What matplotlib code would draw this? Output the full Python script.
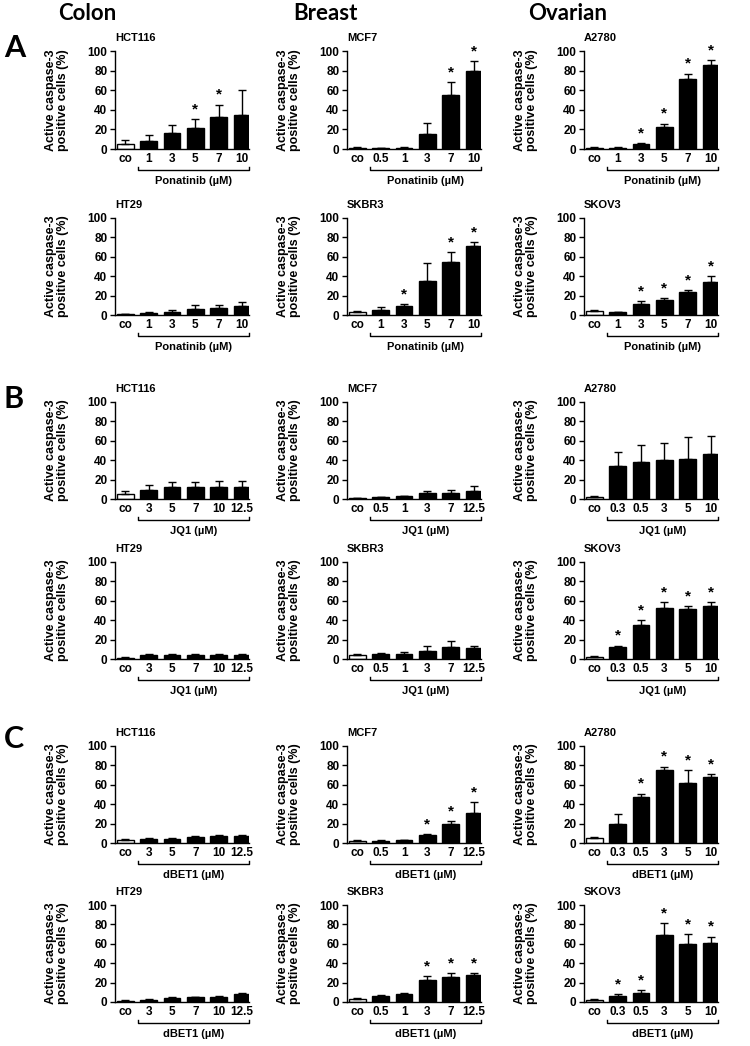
import matplotlib
matplotlib.use("Agg")
import matplotlib.pyplot as plt
import numpy as np

plt.rcParams['font.family'] = ['Liberation Sans', 'DejaVu Sans']
plt.rcParams['font.weight'] = 'bold'

# ---------------- data ----------------
doses_pona_colon = ['co', '1', '3', '5', '7', '10']
doses_pona_mcf7 = ['co', '0.5', '1', '3', '7', '10']
doses_pona_skbr3 = ['co', '1', '3', '5', '7', '10']
doses_pona_ovarian = ['co', '1', '3', '5', '7', '10']
doses_colon = ['co', '3', '5', '7', '10', '12.5']
doses_breast = ['co', '0.5', '1', '3', '7', '12.5']
doses_ovarian = ['co', '0.3', '0.5', '3', '5', '10']

# Panel A: Ponatinib
A_HCT116_mean = [5, 8.5, 16.4, 21.5, 32.4, 34.5]
A_HCT116_sem = [3.9, 6.2, 8.6, 9.2, 13, 26.2]
A_HCT116_sig = [0, 0, 0, 1, 1, 0]
A_MCF7_mean = [1.5, 0.8, 1.5, 15.5, 55, 79.7]
A_MCF7_sem = [1, 0.4, 0.7, 11.5, 13, 10.3]
A_MCF7_sig = [0, 0, 0, 0, 1, 1]
A_A2780_mean = [1.5, 1.5, 5.2, 22.4, 71, 86]
A_A2780_sem = [1, 0.5, 0.8, 3.5, 6, 4.7]
A_A2780_sig = [0, 0, 1, 1, 1, 1]
A_HT29_mean = [0.8, 2, 3, 6.2, 7.6, 9.7]
A_HT29_sem = [0.4, 1.5, 2, 4.1, 2.7, 3.7]
A_HT29_sig = [0, 0, 0, 0, 0, 0]
A_SKBR3_mean = [3.4, 5.5, 9, 35.5, 54.5, 71.4]
A_SKBR3_sem = [1.1, 2.8, 2.4, 17.9, 10.3, 3.6]
A_SKBR3_sig = [0, 0, 1, 0, 1, 1]
A_SKOV3_mean = [3.8, 2.8, 11.4, 15.9, 24.1, 34.5]
A_SKOV3_sem = [1.7, 0.6, 2.7, 1.7, 1.4, 5.2]
A_SKOV3_sig = [0, 0, 1, 1, 1, 1]

# Panel B: JQ1
B_HCT116_mean = [5.2, 9.6, 12.4, 12.4, 12.4, 12.4]
B_HCT116_sem = [3.4, 4.5, 4.8, 4.8, 6.5, 6.5]
B_HCT116_sig = [0, 0, 0, 0, 0, 0]
B_MCF7_mean = [1, 2, 2.7, 5.8, 6.2, 8.2]
B_MCF7_sem = [0.5, 0.5, 0.7, 2.4, 2.7, 4.8]
B_MCF7_sig = [0, 0, 0, 0, 0, 0]
B_A2780_mean = [2, 34, 38, 40.2, 41.2, 46.4]
B_A2780_sem = [0.7, 14, 18, 17.5, 22.4, 18.9]
B_A2780_sig = [0, 0, 0, 0, 0, 0]
B_HT29_mean = [1.4, 4, 4, 4, 3.8, 4.1]
B_HT29_sem = [0.4, 1.2, 1, 1, 1.2, 1.1]
B_HT29_sig = [0, 0, 0, 0, 0, 0]
B_SKBR3_mean = [3.8, 5.2, 5.5, 8, 12, 11.8]
B_SKBR3_sem = [1, 0.8, 1.5, 5, 6.9, 1.2]
B_SKBR3_sig = [0, 0, 0, 0, 0, 0]
B_SKOV3_mean = [2.5, 12.8, 34.7, 52.6, 51.5, 55]
B_SKOV3_sem = [1, 1, 5.5, 6.5, 2.8, 3.8]
B_SKOV3_sig = [0, 1, 1, 1, 1, 1]

# Panel C: dBET1
C_HCT116_mean = [3, 4, 4.3, 6, 7, 7]
C_HCT116_sem = [1, 1, 0.7, 1, 1.2, 1.2]
C_HCT116_sig = [0, 0, 0, 0, 0, 0]
C_MCF7_mean = [2, 2, 2.7, 8.5, 19.2, 30.8]
C_MCF7_sem = [1, 0.8, 0.7, 1.1, 3.7, 11.7]
C_MCF7_sig = [0, 0, 0, 1, 1, 1]
C_A2780_mean = [5, 19.2, 47.3, 75.3, 62.3, 67.8]
C_A2780_sem = [1, 10.9, 3.7, 3.5, 13, 3.1]
C_A2780_sig = [0, 0, 1, 1, 1, 1]
C_HT29_mean = [1.5, 2.5, 4, 4.8, 5, 8.5]
C_HT29_sem = [0.7, 0.8, 1, 0.7, 1.5, 0.8]
C_HT29_sig = [0, 0, 0, 0, 0, 0]
C_SKBR3_mean = [3, 6, 8.5, 22.7, 25.4, 27.5]
C_SKBR3_sem = [0.8, 1.3, 0.8, 4.4, 4.5, 2.4]
C_SKBR3_sig = [0, 0, 0, 1, 1, 1]
C_SKOV3_mean = [2.5, 6.2, 9.3, 69, 59.5, 61.2]
C_SKOV3_sem = [0.7, 2, 3.1, 12.1, 10.3, 6.2]
C_SKOV3_sig = [0, 1, 1, 1, 1, 1]

column_titles = ['Colon', 'Breast', 'Ovarian']
panel_letters = ['A', 'B', 'C']
drug_labels = ['Ponatinib (µM)', 'Ponatinib (µM)', 'JQ1 (µM)', 'JQ1 (µM)', 'dBET1 (µM)', 'dBET1 (µM)']
y_ticks = [0, 20, 40, 60, 80, 100]
ylabel_text = 'Active caspase-3\npositive cells (%)'

panels = [
    [('HCT116', doses_pona_colon, A_HCT116_mean, A_HCT116_sem, A_HCT116_sig),
     ('MCF7', doses_pona_mcf7, A_MCF7_mean, A_MCF7_sem, A_MCF7_sig),
     ('A2780', doses_pona_ovarian, A_A2780_mean, A_A2780_sem, A_A2780_sig)],
    [('HT29', doses_pona_colon, A_HT29_mean, A_HT29_sem, A_HT29_sig),
     ('SKBR3', doses_pona_skbr3, A_SKBR3_mean, A_SKBR3_sem, A_SKBR3_sig),
     ('SKOV3', doses_pona_ovarian, A_SKOV3_mean, A_SKOV3_sem, A_SKOV3_sig)],
    [('HCT116', doses_colon, B_HCT116_mean, B_HCT116_sem, B_HCT116_sig),
     ('MCF7', doses_breast, B_MCF7_mean, B_MCF7_sem, B_MCF7_sig),
     ('A2780', doses_ovarian, B_A2780_mean, B_A2780_sem, B_A2780_sig)],
    [('HT29', doses_colon, B_HT29_mean, B_HT29_sem, B_HT29_sig),
     ('SKBR3', doses_breast, B_SKBR3_mean, B_SKBR3_sem, B_SKBR3_sig),
     ('SKOV3', doses_ovarian, B_SKOV3_mean, B_SKOV3_sem, B_SKOV3_sig)],
    [('HCT116', doses_colon, C_HCT116_mean, C_HCT116_sem, C_HCT116_sig),
     ('MCF7', doses_breast, C_MCF7_mean, C_MCF7_sem, C_MCF7_sig),
     ('A2780', doses_ovarian, C_A2780_mean, C_A2780_sem, C_A2780_sig)],
    [('HT29', doses_colon, C_HT29_mean, C_HT29_sem, C_HT29_sig),
     ('SKBR3', doses_breast, C_SKBR3_mean, C_SKBR3_sem, C_SKBR3_sig),
     ('SKOV3', doses_ovarian, C_SKOV3_mean, C_SKOV3_sem, C_SKOV3_sig)],
]

# ---------------- layout ----------------
W, H = 750, 1046
fig = plt.figure(figsize=(W / 100, H / 100), dpi=100)
fig.patch.set_facecolor('white')

col_left = [115, 347, 584]
ax_w = 134
row_tb = [(51, 149), (218, 315), (402, 499), (562, 659), (746, 843), (905, 1002)]


def add_px_axes(left, top, width, bottom):
    return fig.add_axes([left / W, 1 - bottom / H, width / W, (bottom - top) / H])


for r, row in enumerate(panels):
    top, bot = row_tb[r]
    axh = bot - top
    for c, (name, doses, mean, sem, sig) in enumerate(row):
        ax = add_px_axes(col_left[c], top, ax_w, bot)
        x = np.arange(len(doses))
        colors = ['white' if d == 'co' else 'black' for d in doses]
        ax.bar(x, mean, width=0.72, color=colors, edgecolor='black', linewidth=1.0, zorder=2)
        ax.errorbar(x, mean, yerr=[np.zeros(len(mean)), sem], fmt='none',
                    ecolor='black', elinewidth=1.0, capsize=3, capthick=1.0, zorder=3)
        for xi, m, s, flag in zip(x, mean, sem, sig):
            if flag:
                ax.text(xi, m + s + 10, '*', ha='center', va='center', fontsize=11,
                        fontweight='bold', clip_on=False)
        ax.set_xlim(-0.45, 5.3)
        ax.set_ylim(0, 100)
        ax.set_yticks(y_ticks)
        ax.set_yticklabels([str(t) for t in y_ticks], fontsize=8.5, fontweight='bold')
        ax.set_xticks(x)
        ax.set_xticklabels(doses, fontsize=8.5, fontweight='bold')
        ax.tick_params(axis='x', length=0, pad=3)
        ax.tick_params(axis='y', length=3.5, width=1, pad=2)
        for s in ['top', 'right']:
            ax.spines[s].set_visible(False)
        for s in ['left', 'bottom']:
            ax.spines[s].set_linewidth(1.0)
        ax.set_ylabel(ylabel_text, fontsize=9, fontweight='bold', linespacing=1.0)
        ax.yaxis.set_label_coords(-46 / ax_w, 0.5)
        ax.text(0, 1 + 13 / axh, name, transform=ax.transAxes, ha='left', va='center',
                fontsize=8, fontweight='bold')
        # bracket under treated doses
        tr = ax.get_xaxis_transform()
        yb = -21 / axh
        tick = 3 / axh
        ax.plot([0.55, 0.55, 5.3, 5.3], [yb + tick, yb, yb, yb + tick], color='black',
                lw=1.0, transform=tr, clip_on=False)
        ax.text((0.55 + 5.3) / 2, -32 / axh, drug_labels[r], transform=tr, ha='center',
                va='center', fontsize=8, fontweight='bold')

for c, t in enumerate(column_titles):
    fig.text([58, 293, 528][c] / W, 1 - 13 / H, t, ha='left', va='center',
             fontsize=16, fontweight='bold', family=['Lato', 'DejaVu Sans'])

for letter, yc in zip(panel_letters, [48, 399, 739]):
    fig.text(4 / W, 1 - yc / H, letter, ha='left', va='center', fontsize=22,
             fontweight='bold', family=['Lato', 'DejaVu Sans'])

fig.savefig('out.png', dpi=100, facecolor='white')
